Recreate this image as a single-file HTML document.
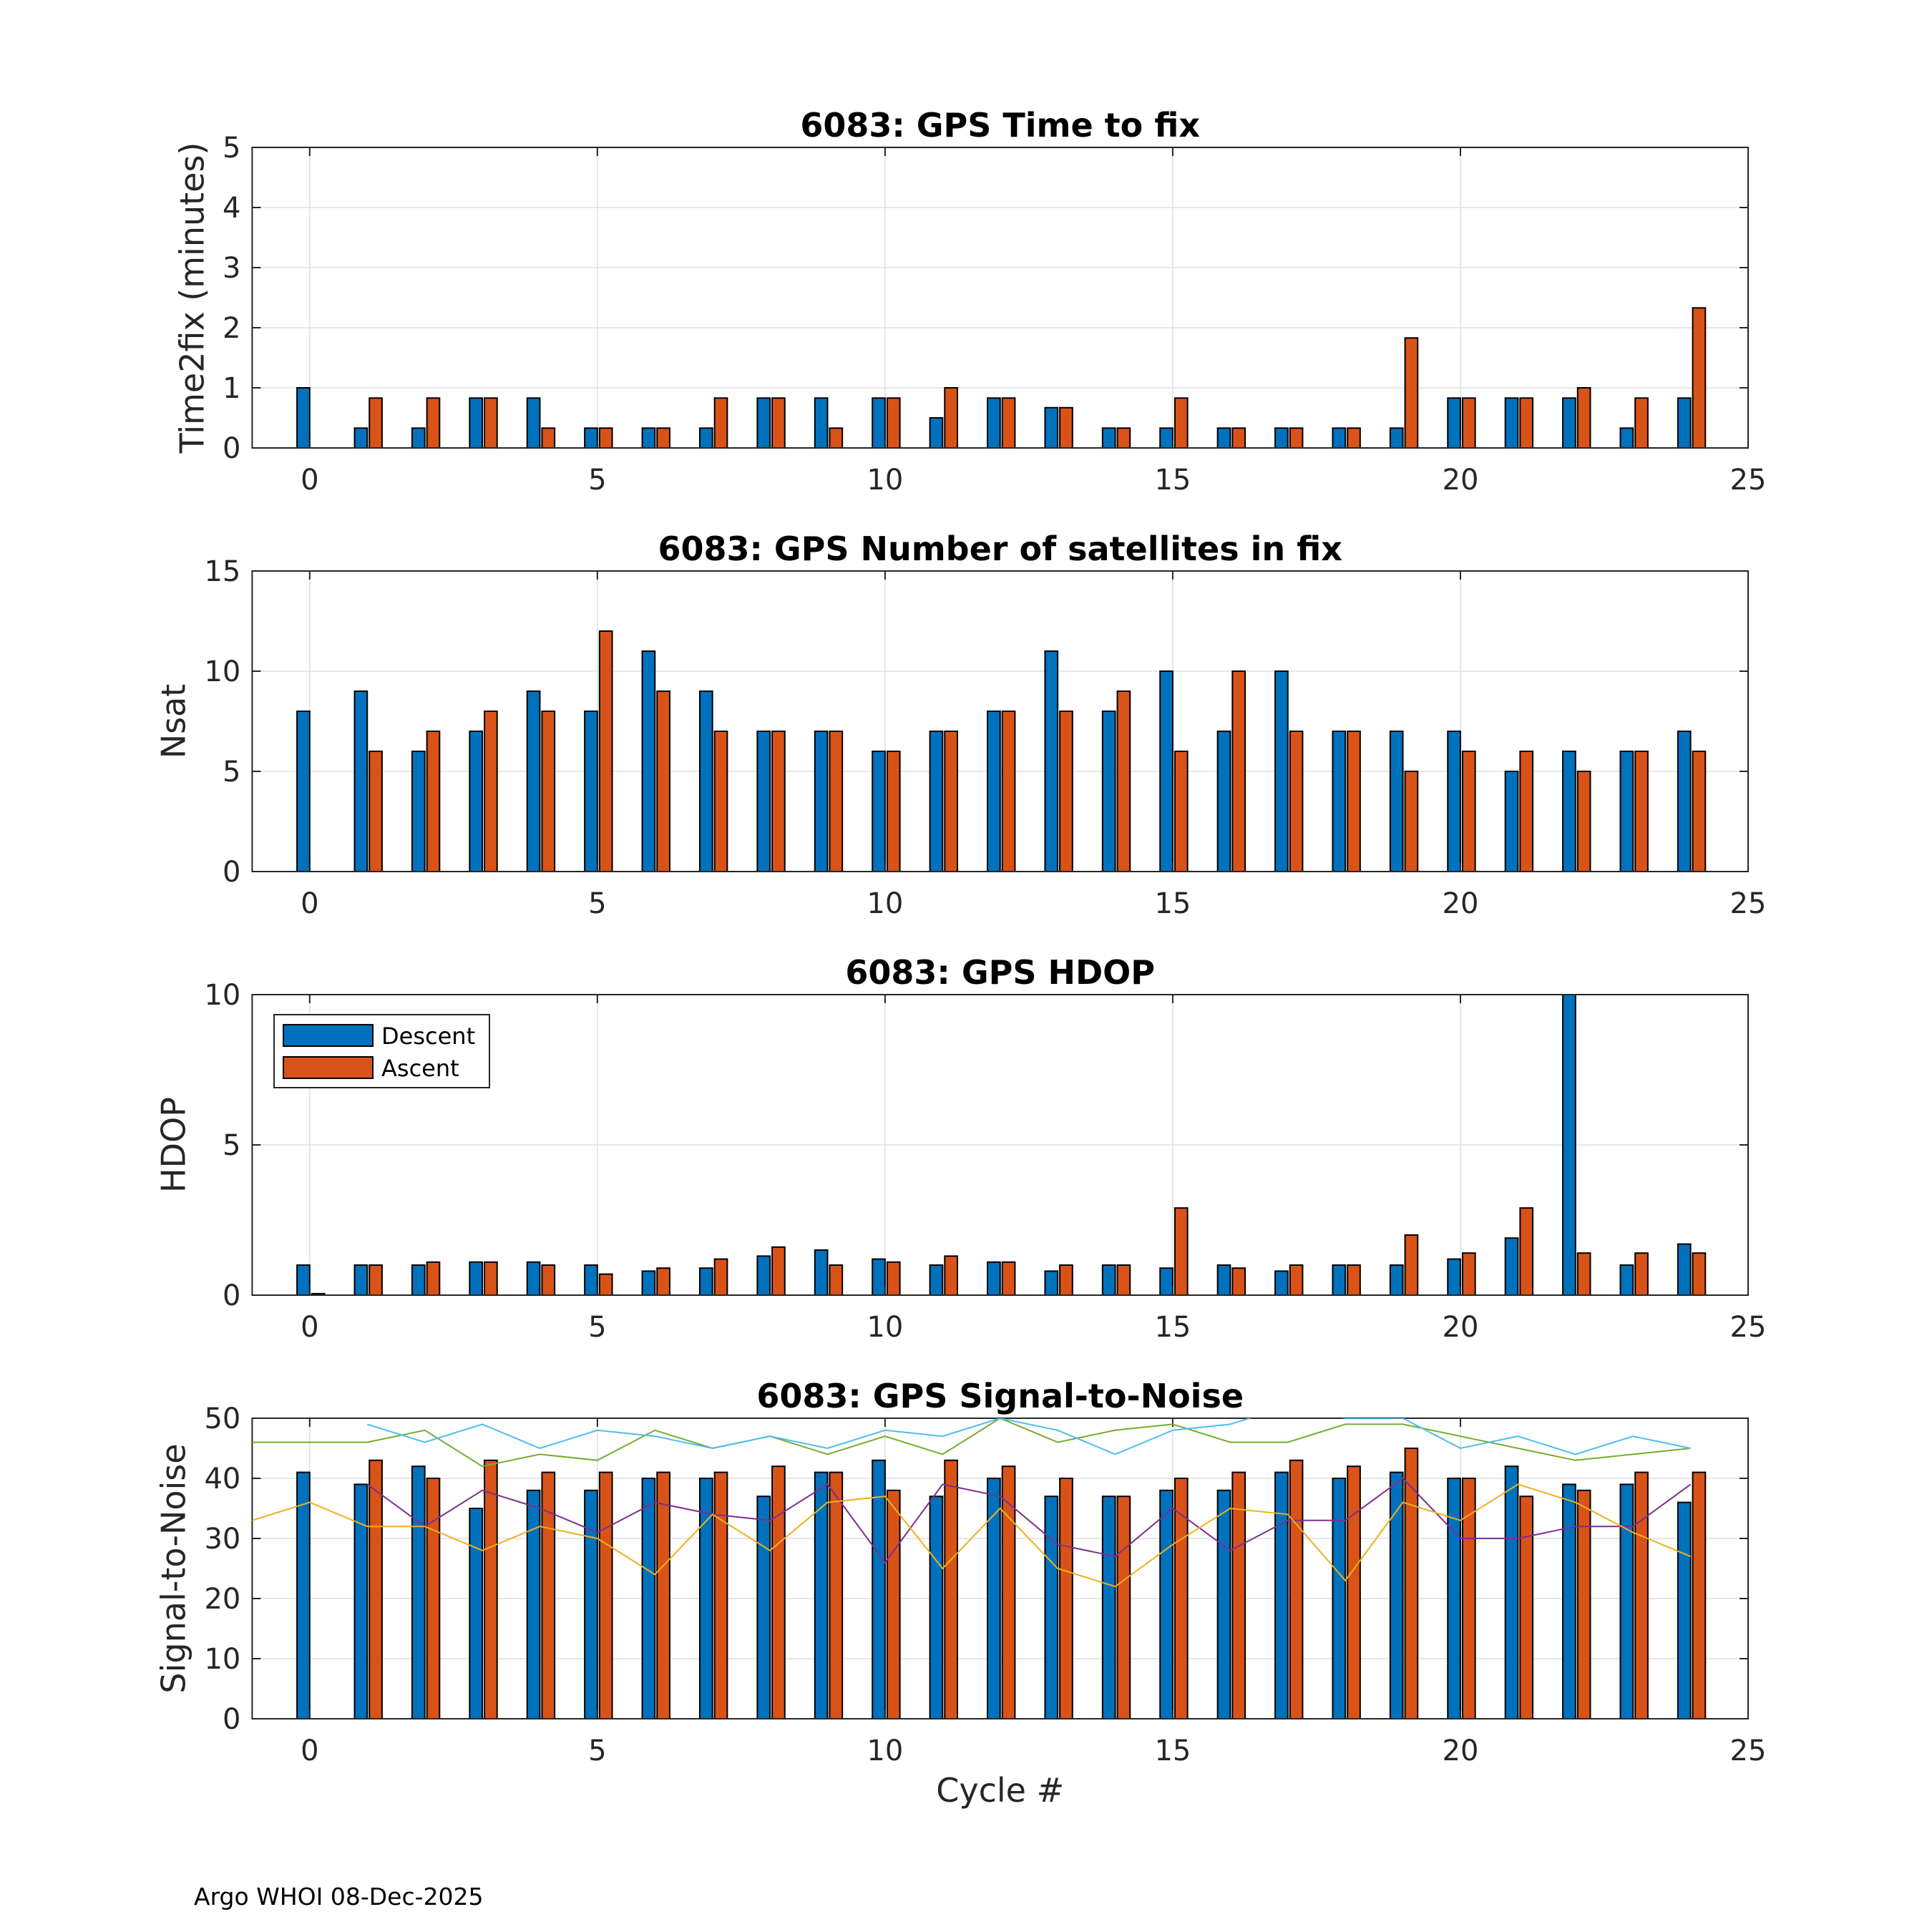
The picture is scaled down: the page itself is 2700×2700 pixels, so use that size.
<!DOCTYPE html>
<html><head><meta charset="utf-8">
<style>
html,body{margin:0;padding:0;background:#fff;}
svg{display:block;font-family:"DejaVu Sans","Liberation Sans",sans-serif;}
</style></head>
<body>
<svg id="chart" width="2700" height="2700" viewBox="0 0 2700 2700" xmlns="http://www.w3.org/2000/svg">
<rect width="2700" height="2700" fill="#fff"/>
</svg>
<script>
const cycles = [0,1,2,3,4,5,6,7,8,9,10,11,12,13,14,15,16,17,18,19,20,21,22,23,24];
const xTicks = [0,5,10,15,20,25];
const t2fDescent = [1.0,0.33,0.33,0.83,0.83,0.33,0.33,0.33,0.83,0.83,0.83,0.5,0.83,0.67,0.33,0.33,0.33,0.33,0.33,0.33,0.83,0.83,0.83,0.33,0.83];
const t2fAscent  = [0,0.83,0.83,0.83,0.33,0.33,0.33,0.83,0.83,0.33,0.83,1.0,0.83,0.67,0.33,0.83,0.33,0.33,0.33,1.83,0.83,0.83,1.0,0.83,2.33];
const nsatDescent = [8,9,6,7,9,8,11,9,7,7,6,7,8,11,8,10,7,10,7,7,7,5,6,6,7];
const nsatAscent  = [0,6,7,8,8,12,9,7,7,7,6,7,8,8,9,6,10,7,7,5,6,6,5,6,6];
const hdopDescent = [1,1,1,1.1,1.1,1,0.8,0.9,1.3,1.5,1.2,1,1.1,0.8,1,0.9,1,0.8,1,1,1.2,1.9,10,1,1.7];
const hdopAscent  = [0.05,1,1.1,1.1,1,0.7,0.9,1.2,1.6,1,1.1,1.3,1.1,1,1,2.9,0.9,1,1,2,1.4,2.9,1.4,1.4,1.4];
const snrDescent = [41,39,42,35,38,38,40,40,37,41,43,37,40,37,37,38,38,41,40,41,40,42,39,39,36];
const snrAscent  = [0,43,40,43,41,41,41,41,42,41,38,43,42,40,37,40,41,43,42,45,40,37,38,41,41];
const greenX = [-1,0,1,2,3,4,5,6,7,8,9,10,11,12,13,14,15,16,17,18,19,20,21,22,23,24];
const greenY = [46,46,46,48,42,44,43,48,45,47,44,47,44,50,46,48,49,46,46,49,49,47,45,43,44,45];
const cyanX = [1,2,3,4,5,6,7,8,9,10,11,12,13,14,15,16,17,18,19,20,21,22,23,24];
const cyanY = [49,46,49,45,48,47,45,47,45,48,47,50,48,44,48,49,52,50,50,45,47,44,47,45];
const purpleX = [1,2,3,4,5,6,7,8,9,10,11,12,13,14,15,16,17,18,19,20,21,22,23,24];
const purpleY = [39,32,38,35,31,36,34,33,39,26,39,37,29,27,35,28,33,33,40,30,30,32,32,39];
const yellowX = [-1,0,1,2,3,4,5,6,7,8,9,10,11,12,13,14,15,16,17,18,19,20,21,22,23,24];
const yellowY = [33,36,32,32,28,32,30,24,34,28,36,37,25,35,25,22,29,35,34,23,36,33,39,36,31,27];

const NS="http://www.w3.org/2000/svg";
const svg=document.getElementById('chart');
function el(tag,attrs,parent){const e=document.createElementNS(NS,tag);for(const k in attrs)e.setAttribute(k,attrs[k]);(parent||svg).appendChild(e);return e;}
const L=352.4,R=2443,H=420;
const xmin=-1,xmax=25;
function sx(v){return L+(v-xmin)/(xmax-xmin)*(R-L);}
const BW=0.22;
const BLUE="#0072BD",ORANGE="#D95319";

function panel(top,ymax,yTicks,title,ylabel,desc,asc,key,ylOff){
  const g=el('g',{});
  
  
  const sy=v=>top+H-(v/ymax)*H;
  const clipId='clip-'+key;
  const cp=el('clipPath',{id:clipId},g);el('rect',{x:L,y:top,width:R-L,height:H},cp);
  xTicks.forEach(t=>{const ln=el('line',{x1:sx(t),x2:sx(t),y1:top,y2:top+H,stroke:'#dfdfdf','stroke-width':1.5},g);
    });
  yTicks.forEach(t=>{const ln=el('line',{x1:L,x2:R,y1:sy(t),y2:sy(t),stroke:'#dfdfdf','stroke-width':1.5},g);
    });
  const bg=el('g',{'clip-path':'url(#'+clipId+')'},g);
  cycles.forEach((c,i)=>{
    const d=desc[i];
    const r1=el('rect',{x:sx(c-BW),y:sy(d),width:sx(BW)-sx(0),height:Math.max(0,sy(0)-sy(d)),fill:BLUE,stroke:'#000','stroke-width':2},bg);
    
    const a=asc[i];
    const r2=el('rect',{x:sx(c)+3,y:sy(a),width:sx(BW)-sx(0),height:Math.max(0,sy(0)-sy(a)),fill:ORANGE,stroke:'#000','stroke-width':2},bg);
    
  });
  const box=el('rect',{x:L,y:top,width:R-L,height:H,fill:'none',stroke:'#262626','stroke-width':2},g);
  
  xTicks.forEach(t=>{
    el('line',{x1:sx(t),x2:sx(t),y1:top+H,y2:top+H-12,stroke:'#262626','stroke-width':2},g);
    el('line',{x1:sx(t),x2:sx(t),y1:top,y2:top+12,stroke:'#262626','stroke-width':2},g);
    const tx=el('text',{x:sx(t),y:top+H+58,'text-anchor':'middle','font-size':40,fill:'#262626'},g);
    tx.textContent=t;
  });
  yTicks.forEach(t=>{
    el('line',{x1:L,x2:L+12,y1:sy(t),y2:sy(t),stroke:'#262626','stroke-width':2},g);
    el('line',{x1:R,x2:R-12,y1:sy(t),y2:sy(t),stroke:'#262626','stroke-width':2},g);
    const tx=el('text',{x:L-16,y:sy(t)+14,'text-anchor':'end','font-size':40,fill:'#262626'},g);
    tx.textContent=t;
  });
  const tt=el('text',{x:(L+R)/2,y:top-15,'text-anchor':'middle','font-size':46,'font-weight':'bold',fill:'#000'},g);
  tt.textContent=title;
  const yl=el('text',{x:0,y:0,transform:'translate('+(L-ylOff)+','+(top+H/2)+') rotate(-90)','text-anchor':'middle','font-size':46,fill:'#262626'},g);
  yl.textContent=ylabel;
  return {g,sy,clipId};
}

const tops=[206,798,1390,1982];
panel(tops[0],5,[0,1,2,3,4,5],'6083: GPS Time to fix','Time2fix (minutes)',t2fDescent,t2fAscent,'time-to-fix',68);
panel(tops[1],15,[0,5,10,15],'6083: GPS Number of satellites in fix','Nsat',nsatDescent,nsatAscent,'nsat',94);
const p3=panel(tops[2],10,[0,5,10],'6083: GPS HDOP','HDOP',hdopDescent,hdopAscent,'hdop',94);
const p4=panel(tops[3],50,[0,10,20,30,40,50],'6083: GPS Signal-to-Noise','Signal-to-Noise',snrDescent,snrAscent,'snr',94);

function line(xs,ys,color,name){
  const pts=xs.map((x,i)=>sx(x)+','+p4.sy(ys[i])).join(' ');
  const pl=el('polyline',{points:pts,fill:'none',stroke:color,'stroke-width':2,'clip-path':'url(#'+p4.clipId+')'},p4.g);
  
  
}
line(greenX,greenY,'#77AC30','snr-line-green');
line(cyanX,cyanY,'#4DBEEE','snr-line-cyan');
line(purpleX,purpleY,'#7E2F8E','snr-line-purple');
line(yellowX,yellowY,'#EDB120','snr-line-yellow');

const lg=el('g',{});


el('rect',{x:383,y:1418,width:301,height:102,fill:'#fff',stroke:'#262626','stroke-width':2},lg);
const e1=el('rect',{x:396,y:1432,width:125,height:30,fill:BLUE,stroke:'#000','stroke-width':2},lg);

const t1=el('text',{x:533,y:1459,'font-size':32,fill:'#000'},lg);t1.textContent='Descent';

const e2=el('rect',{x:396,y:1477,width:125,height:30,fill:ORANGE,stroke:'#000','stroke-width':2},lg);

const t2=el('text',{x:533,y:1504,'font-size':32,fill:'#000'},lg);t2.textContent='Ascent';


const xl=el('text',{x:(L+R)/2,y:2518,'text-anchor':'middle','font-size':46,fill:'#262626'});
xl.textContent='Cycle #';
const ft=el('text',{x:271,y:2662,'font-size':33,fill:'#000'});
ft.textContent='Argo WHOI 08-Dec-2025';
</script>
</body></html>
